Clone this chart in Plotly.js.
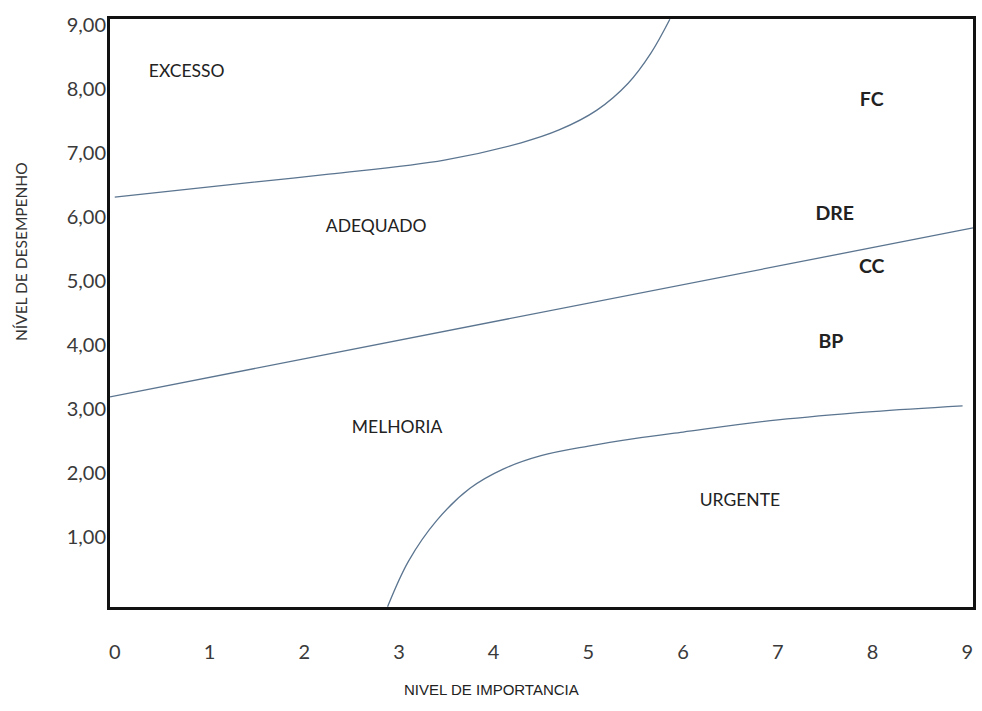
<!DOCTYPE html>
<html>
<head>
<meta charset="utf-8">
<script src="https://cdn.plot.ly/plotly-3.0.1.min.js"></script>
<style>html,body{margin:0;padding:0;background:#fff;}#chart{width:982px;height:711px;}</style>
</head>
<body>
<div id="chart"></div>
<script>
// Boundary curves (importance x, performance y)
const upperX = [0, 1.05, 2.26, 3.48, 4.29, 4.69, 5.09, 5.42, 5.66, 5.86];
const upperY = [6.31, 6.48, 6.67, 6.89, 7.16, 7.36, 7.67, 8.09, 8.56, 9.09];

const middleX = [-0.05, 9.06];
const middleY = [3.19, 5.83];

const lowerX = [2.88, 3.1, 3.4, 3.75, 4.1, 4.5, 5.0, 5.5, 6.0, 7.0, 8.0, 8.95];
const lowerY = [-0.09, 0.62, 1.26, 1.76, 2.06, 2.27, 2.42, 2.54, 2.64, 2.83, 2.96, 3.05];

// Zone labels
const zoneNames = ["EXCESSO", "ADEQUADO", "MELHORIA", "URGENTE"];
const zoneX = [0.76, 2.76, 2.98, 6.6];
const zoneY = [8.25, 5.83, 2.69, 1.56];

// Items
const itemNames = ["FC", "DRE", "CC", "BP"];
const itemX = [7.99, 7.6, 7.99, 7.56];
const itemY = [7.81, 6.03, 5.2, 4.03];

// Tick labels
const xTickVals = [0, 1, 2, 3, 4, 5, 6, 7, 8, 9];
const xTickText = ["0", "1", "2", "3", "4", "5", "6", "7", "8", "9"];
const yTickVals = [1, 2, 3, 4, 5, 6, 7, 8, 9];
const yTickText = ["1,00", "2,00", "3,00", "4,00", "5,00", "6,00", "7,00", "8,00", "9,00"];

const curveColor = "#5b7590";
const lineStyle = {color: curveColor, width: 1.3, shape: "spline", smoothing: 1};

const traces = [
  {x: upperX, y: upperY, mode: "lines", line: lineStyle, hoverinfo: "skip"},
  {x: middleX, y: middleY, mode: "lines", line: {color: curveColor, width: 1.3}, hoverinfo: "skip"},
  {x: lowerX, y: lowerY, mode: "lines", line: lineStyle, hoverinfo: "skip"},
  {x: zoneX, y: zoneY, mode: "text", text: zoneNames, textposition: "middle center",
   textfont: {family: "Lato, 'Open Sans', sans-serif", size: 17.5, color: "#222"}, hoverinfo: "skip"},
  {x: itemX, y: itemY, mode: "text", text: itemNames.map(t => "<b>" + t + "</b>"), textposition: "middle center",
   textfont: {family: "Lato, 'Open Sans', sans-serif", size: 19.5, color: "#222"}, hoverinfo: "skip"}
];

const layout = {
  width: 982, height: 711,
  margin: {l: 110, r: 9, t: 19, b: 104, pad: 0},
  paper_bgcolor: "#fff", plot_bgcolor: "#fff",
  showlegend: false,
  xaxis: {
    range: [-0.05, 9.06], showgrid: false, zeroline: false,
    showline: true, mirror: true, linecolor: "#111", linewidth: 3,
    tickmode: "array", tickvals: xTickVals, ticktext: xTickText,
    ticks: "", ticklabelstandoff: 25,
    tickfont: {family: "Lato, 'Open Sans', sans-serif", size: 20, color: "#3a3a3a"}
  },
  yaxis: {
    range: [-0.094, 9.094], showgrid: false, zeroline: false,
    showline: true, mirror: true, linecolor: "#111", linewidth: 3,
    tickmode: "array", tickvals: yTickVals, ticktext: yTickText,
    ticks: "", ticklabelstandoff: -3,
    tickfont: {family: "Lato, 'Open Sans', sans-serif", size: 20, color: "#3a3a3a"}
  },
  annotations: [
    {text: "NIVEL DE IMPORTANCIA", xref: "paper", yref: "paper", x: (491 - 110) / 863, y: -(690 - 607) / 588,
     xanchor: "center", yanchor: "middle", showarrow: false,
     font: {family: "'Liberation Sans', Arial, sans-serif", size: 15, color: "#222"}},
    {text: "NÍVEL DE DESEMPENHO", xref: "paper", yref: "paper", x: -(110 - 21) / 863, y: (607 - 252) / 588,
     xanchor: "center", yanchor: "middle", textangle: -90, showarrow: false,
     font: {family: "Lato, 'Open Sans', sans-serif", size: 15.5, color: "#333"}}
  ]
};

Plotly.newPlot("chart", traces, layout, {displayModeBar: false, staticPlot: true});
</script>
</body>
</html>
